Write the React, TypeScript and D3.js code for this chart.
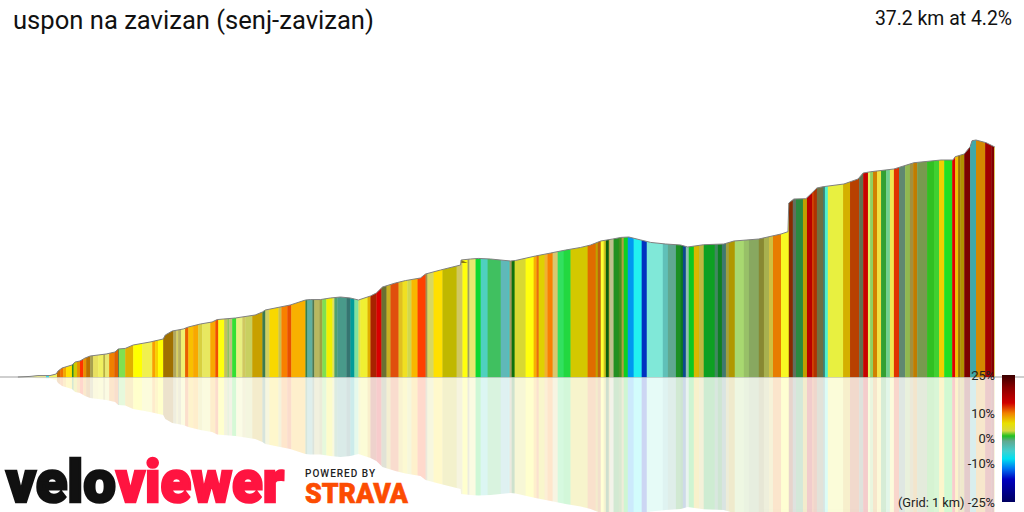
import React from "react";
import * as d3 from "d3";

const title = "uspon na zavizan (senj-zavizan)";
const summary = "37.2 km at 4.2%";
const totalKm = 37.2;
const startKm = 0.67;
const maxGain = 1610;

const profileKm = [
  0.67, 1.12, 1.42, 1.87, 2.10, 2.17, 2.32, 2.69, 2.81, 2.99,
  3.18, 3.37, 3.97, 4.30, 4.42, 4.68, 4.98, 5.61, 6.10, 6.18,
  6.44, 6.85, 7.04, 7.49, 7.93, 8.12, 8.80, 9.54, 9.81, 9.92,
  10.85, 11.42, 11.60, 11.98, 12.35, 12.73, 13.10, 13.40, 13.85, 14.07,
  14.30, 14.78, 15.16, 15.72, 15.91, 16.47, 17.22, 17.24, 17.59, 17.89,
  18.34, 19.09, 19.28, 20.02, 20.59, 21.15, 21.71, 22.08, 22.46, 22.91,
  23.21, 23.51, 23.96, 24.33, 24.89, 25.45, 25.71, 26.31, 27.06, 27.44,
  28.37, 29.20, 29.46, 29.49, 29.68, 30.13, 30.39, 30.54, 30.77, 31.55,
  32.08, 32.27, 32.56, 33.42, 34.17, 35.18, 35.63, 35.71, 36.05, 36.27,
  36.34, 36.49, 36.87, 37.17, 37.20,
];
const profileGain = [
  0, 4, 10, 10, 21, 42, 63, 84, 105, 112,
  133, 147, 161, 175, 196, 200, 224, 245, 266, 294,
  322, 336, 350, 371, 385, 402, 413, 434, 455, 469,
  504, 539, 542, 542, 553, 560, 553, 539, 567, 588,
  630, 658, 675, 693, 721, 749, 784, 819, 826, 830,
  826, 812, 816, 847, 868, 889, 907, 924, 952, 966,
  977, 980, 959, 942, 931, 924, 910, 926, 931, 952,
  966, 1001, 1017, 1218, 1246, 1248, 1295, 1323, 1332, 1351,
  1386, 1428, 1437, 1456, 1500, 1519, 1519, 1542, 1561, 1612,
  1654, 1659, 1640, 1612, 1610,
];

const segmentEndKm = [
  1.24, 1.72, 1.83, 2.13, 2.25, 2.36, 2.47, 2.69, 2.75, 2.88,
  2.99, 3.11, 3.22, 3.37, 3.48, 3.67, 3.86, 3.93, 4.08, 4.27,
  4.42, 4.45, 4.68, 4.98, 5.31, 5.69, 5.80, 5.91, 6.10, 6.48,
  6.59, 6.66, 6.77, 6.92, 7.04, 7.22, 7.41, 7.56, 7.86, 8.05,
  8.16, 8.38, 8.50, 8.57, 8.68, 8.83, 9.06, 9.17, 9.43, 9.81,
  9.92, 10.07, 10.41, 10.52, 10.74, 10.89, 11.42, 11.49, 11.68, 11.75,
  11.94, 12.05, 12.20, 12.43, 12.50, 12.61, 12.95, 13.10, 13.25, 13.40,
  13.47, 13.74, 13.85, 14.07, 14.26, 14.45, 14.60, 14.90, 15.05, 15.23,
  15.38, 15.61, 15.91, 15.98, 16.21, 16.54, 17.07, 17.29, 17.48, 17.55,
  17.78, 17.97, 18.23, 18.72, 18.98, 19.05, 19.13, 19.24, 19.65, 19.95,
  20.06, 20.14, 20.36, 20.47, 20.66, 20.85, 21.07, 21.33, 21.97, 22.27,
  22.35, 22.46, 22.57, 22.65, 22.76, 22.80, 22.94, 23.13, 23.24, 23.32,
  23.47, 23.69, 23.99, 24.18, 24.78, 24.97, 25.27, 25.45, 25.53, 25.64,
  25.75, 25.94, 26.13, 26.31, 26.72, 26.84, 26.99, 27.14, 27.25, 27.47,
  27.81, 28.00, 28.37, 28.56, 28.75, 28.90, 29.20, 29.49, 29.64, 29.76,
  30.02, 30.17, 30.36, 30.43, 30.54, 30.77, 30.84, 30.95, 31.52, 31.78,
  32.12, 32.27, 32.45, 32.53, 32.64, 32.79, 32.94, 33.13, 33.27, 33.42,
  33.61, 33.84, 34.02, 34.14, 34.29, 34.66, 34.92, 35.11, 35.30, 35.60,
  35.71, 35.82, 35.90, 36.05, 36.27, 36.49, 36.83, 37.06, 37.17, 37.20,
];
const segmentColors = [
  "#dff0b0", "#e8e890", "#30e0f0", "#f0f060", "#c86a00", "#f07000", "#f2a800", "#ffe000", "#2a8a2a", "#d0c800",
  "#e89000", "#ff3000", "#e89000", "#b87000", "#a8a050", "#e8e060", "#f0f060", "#b8b040", "#e8e870", "#f08000",
  "#e06000", "#407840", "#80e050", "#e0b000", "#ffff00", "#f0f050", "#f8a000", "#f8d000", "#ffff00", "#a07000",
  "#b0a860", "#d8d060", "#b8b060", "#f0f070", "#e86000", "#f8c000", "#f8a800", "#d8d040", "#e8e860", "#f8a800",
  "#f05000", "#ffff10", "#c0c060", "#90c060", "#c0c080", "#30e030", "#e8f080", "#d0c860", "#c8d060", "#c8a000",
  "#3a7a50", "#d0d060", "#f8d800", "#c8c050", "#f88000", "#e85000", "#f8b000", "#308050", "#60b0a0", "#507850",
  "#b8b860", "#a0a040", "#80e050", "#f0f000", "#e0e060", "#50a070", "#4a9a8a", "#357570", "#009a9a", "#80e0a0",
  "#e0e050", "#f0f030", "#e0b000", "#a82000", "#d80000", "#6a7030", "#c8b020", "#e05010", "#e0c020", "#f0e020",
  "#d0d850", "#f8b800", "#ff4000", "#a09050", "#d8d860", "#ffe000", "#c0b800", "#d0c860", "#ffff10", "#a0a060",
  "#e8e870", "#10d830", "#50d0c0", "#40c060", "#60b8b8", "#50c0c0", "#a09860", "#107010", "#d8d830", "#ffff10",
  "#f8b000", "#e87010", "#e0d000", "#f0b030", "#f88000", "#d8c870", "#30e060", "#20d840", "#d4c800", "#e06c00",
  "#c0a000", "#c06010", "#ffff30", "#d0c020", "#106010", "#c0b040", "#c0c090", "#209020", "#409020", "#b0a040",
  "#10d020", "#0098f0", "#20f0f0", "#0030c0", "#80e8d8", "#60c0b8", "#60a890", "#1a9020", "#0a7a20", "#0a4a90",
  "#90c0b0", "#10c820", "#d8b800", "#c0b840", "#10a020", "#408860", "#108020", "#407870", "#a0a040", "#b09800",
  "#a8d870", "#98c068", "#88a860", "#888830", "#a8b050", "#d0c040", "#e87c00", "#f8f820", "#882c00", "#607060",
  "#2a8a40", "#c0a000", "#b80000", "#d04000", "#b03000", "#707040", "#408070", "#50f0d0", "#e8f040", "#d4b000",
  "#b84000", "#607050", "#c80000", "#e0f060", "#90d060", "#d08000", "#f0e040", "#30a030", "#70d090", "#f0e850",
  "#e03000", "#608870", "#90b850", "#a09040", "#c07c00", "#789a50", "#30c020", "#40d030", "#f0d000", "#20e020",
  "#e00000", "#f0c000", "#a07000", "#b09000", "#7a0000", "#40a8a8", "#d48800", "#a00000", "#800000", "#e8e060",
];

const foldKm = [17.24, 17.48, 17.24];
const foldGain = [819, 798, 798];

const legendGrades = [25, 20, 14, 10, 6, 3, 1, -1, -5, -8, -12, -16, -25];
const legendColors = [
  "#3a0000", "#8a0000", "#d00000", "#f08000", "#e8e000", "#d8d840", "#20c020",
  "#60a890", "#40d0d0", "#00e0f0", "#0070f0", "#0000c0", "#000060",
];
const legendLabels = [25, 10, 0, -10, -25];

const baseY = 377;
const x = d3.scaleLinear().domain([0, totalKm]).range([0, 995]);
const y = d3.scaleLinear().domain([0, maxGain]).range([baseY, 147]);
const yMirror = d3.scaleLinear().domain([0, maxGain]).range([baseY, 607]);
const legendY = d3.scaleLinear().domain([25, -25]).range([375, 502]);

const profile = profileKm.map((km, i) => ({ km, gain: profileGain[i] }));
const segmentStarts = segmentEndKm.map((_, i) => (i === 0 ? startKm : segmentEndKm[i - 1]));

const areaTop = d3.area<{ km: number; gain: number }>()
  .x((d) => x(d.km)).y0(baseY).y1((d) => y(d.gain));
const areaBottom = d3.area<{ km: number; gain: number }>()
  .x((d) => x(d.km)).y0(baseY).y1((d) => yMirror(d.gain));
const outline = d3.line<{ km: number; gain: number }>()
  .x((d) => x(d.km)).y((d) => y(d.gain));
const foldPath = d3.line<number>()
  .x((km) => x(km)).y((_, i) => y(foldGain[i]))(foldKm) + "Z";

const sans = "Roboto, 'Noto Sans', sans-serif";

function Stripes({ top, height }: { top: number; height: number }) {
  return (
    <g filter="url(#soft)">
      {segmentEndKm.map((end, i) => (
        <rect
          key={i}
          x={x(segmentStarts[i])}
          y={top}
          width={x(end) - x(segmentStarts[i]) + (i === segmentEndKm.length - 1 ? 0 : 0.4)}
          height={height}
          fill={segmentColors[i]}
        />
      ))}
    </g>
  );
}

export default function App() {
  return (
    <svg
      width={1024}
      height={512}
      viewBox="0 0 1024 512"
      style={{ position: "absolute", left: 0, top: 0, background: "#fff" }}
    >
      <defs>
        <clipPath id="top-clip"><path d={areaTop(profile) ?? ""} /></clipPath>
        <clipPath id="bottom-clip"><path d={areaBottom(profile) ?? ""} /></clipPath>
        <filter id="soft" x="0" y="0" width="1" height="1">
          <feGaussianBlur stdDeviation="0.35 0" />
        </filter>
        <linearGradient id="scale" x1="0" y1="0" x2="0" y2="1">
          {legendGrades.map((g, i) => (
            <stop key={i} offset={(legendY(g) - 375) / 127} stopColor={legendColors[i]} />
          ))}
        </linearGradient>
      </defs>

      <rect x={0} y={376} width={1024} height={2} fill="#cfcfcf" />

      <g clipPath="url(#bottom-clip)" opacity={0.2}>
        <Stripes top={baseY} height={140} />
      </g>
      <g clipPath="url(#top-clip)">
        <Stripes top={100} height={baseY - 100} />
      </g>
      <path d={foldPath} fill="#8a7a10" />
      <path d={outline(profile) ?? ""} fill="none" stroke="#808080" strokeWidth={1} />

      <text x={13} y={29} fontFamily={sans} fontSize={25.6} fill="#111">{title}</text>
      <text x={1012} y={25} textAnchor="end" fontFamily={sans} fontSize={19.4} fill="#111">{summary}</text>

      <rect x={1002} y={375} width={13} height={127} fill="url(#scale)" />
      {legendLabels.map((g) => (
        <text
          key={g}
          x={995}
          y={legendY(g) + 4.5}
          textAnchor="end"
          fontFamily={sans}
          fontSize={12.8}
          fill="#222"
        >
          {g === -25 ? "(Grid: 1 km) -25%" : `${g}%`}
        </text>
      ))}

      <text x={6} y={502} fontFamily={sans} fontSize={60} fontWeight={900} fill="#111" stroke="#111" strokeWidth={2.5}
        textLength={110} lengthAdjust="spacingAndGlyphs">velo</text>
      <text x={116} y={502} fontFamily={sans} fontSize={60} fontWeight={900} fill="#ff1440" stroke="#ff1440" strokeWidth={2.5}
        textLength={168} lengthAdjust="spacingAndGlyphs">viewer</text>
      <text x={305} y={477} fontFamily={sans} fontSize={10} fontWeight={500} fill="#222"
        textLength={70}>POWERED BY</text>
      <text x={305} y={503} fontFamily={sans} fontSize={27} fontWeight={900} fill="#fc4c02" stroke="#fc4c02" strokeWidth={0.6}
        textLength={103} lengthAdjust="spacingAndGlyphs">STRAVA</text>
    </svg>
  );
}
